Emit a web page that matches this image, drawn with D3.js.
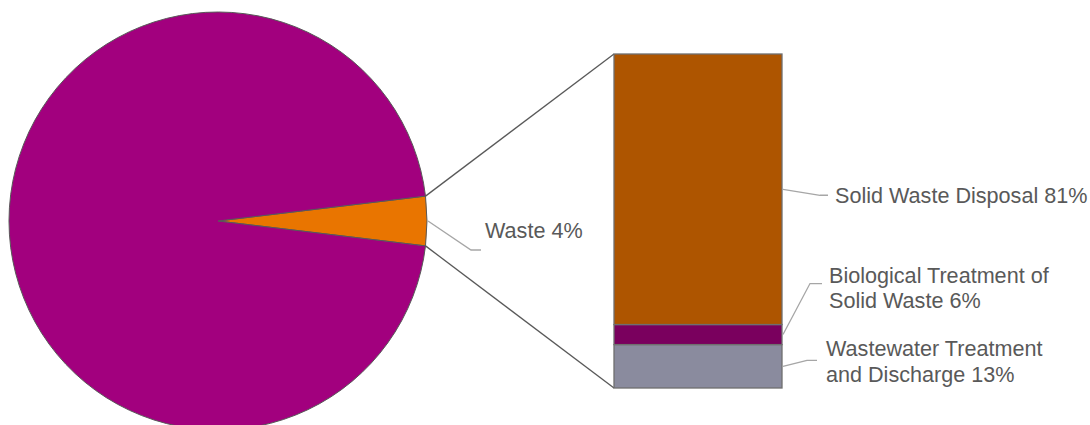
<!DOCTYPE html>
<html>
<head>
<meta charset="utf-8">
<script src="https://cdn.jsdelivr.net/npm/d3@7"></script>
<style>
  html, body { margin: 0; padding: 0; background: #ffffff; }
  svg { display: block; }
  text { font-family: "Liberation Sans", Arial, sans-serif; fill: #595959; }
</style>
</head>
<body>
<svg id="chart" width="1090" height="425"></svg>
<script>
// ---- Data ----
const pieCategories = ["Waste", "Other"];
const pieValues = [3.8, 96.2];
const pieLabels = ["Waste 4%", null];

const barCategories = ["Wastewater Treatment and Discharge", "Biological Treatment of Solid Waste", "Solid Waste Disposal"];
const barValues = [13, 6, 81];
const barLabelLines = [
  ["Wastewater Treatment", "and Discharge 13%"],
  ["Biological Treatment of", "Solid Waste 6%"],
  ["Solid Waste Disposal 81%"]
];

// ---- Styles ----
const pieColors = ["#E97500", "#A2007E"];
const barColors = ["#8A8B9E", "#7A005E", "#AE5500"];

const svg = d3.select("#chart");
const cx = 218, cy = 221, R = 209;

// ---- Pie ----
const total = d3.sum(pieValues);
const wasteAngle = pieValues[0] / total * 2 * Math.PI;
const pie = d3.pie().sort(null).value(d => d)
  .startAngle(Math.PI / 2 - wasteAngle / 2)
  .endAngle(Math.PI / 2 - wasteAngle / 2 + 2 * Math.PI);
const arcs = pie(pieValues);
const arc = d3.arc().innerRadius(0).outerRadius(R);
const gPie = svg.append("g").attr("transform", `translate(${cx},${cy})`);
gPie.selectAll("path").data(arcs).join("path")
  .attr("d", arc)
  .attr("fill", (d, i) => pieColors[i])
  .attr("stroke", "#595959")
  .attr("stroke-width", 1);

// ---- Bar ----
const barX0 = 614, barX1 = 782;
const y = d3.scaleLinear().domain([0, 100]).range([388, 54]);
const stack = [];
let acc = 0;
barValues.forEach((v, i) => { stack.push({ i, y0: acc, y1: acc + v }); acc += v; });

// connector lines from slice edge to bar corners
const pt = a => [cx + R * Math.sin(a), cy - R * Math.cos(a)];
const wa = arcs[0];
const pTop = pt(wa.startAngle), pBot = pt(wa.endAngle);
svg.append("line").attr("x1", pTop[0]).attr("y1", pTop[1]).attr("x2", barX0).attr("y2", y(100))
  .attr("stroke", "#595959").attr("stroke-width", 1.3);
svg.append("line").attr("x1", pBot[0]).attr("y1", pBot[1]).attr("x2", barX0).attr("y2", y(0))
  .attr("stroke", "#595959").attr("stroke-width", 1.3);

svg.append("g").selectAll("rect").data(stack).join("rect")
  .attr("x", barX0)
  .attr("width", barX1 - barX0)
  .attr("y", d => y(d.y1))
  .attr("height", d => y(d.y0) - y(d.y1))
  .attr("fill", d => barColors[d.i])
  .attr("stroke", "#6f6f6f")
  .attr("stroke-width", 1.3);

// ---- Labels ----
const fs = 21.6;
const leader = "#a6a6a6";

// Waste label
const wmid = (wa.startAngle + wa.endAngle) / 2;
const wp = pt(wmid);
svg.append("path")
  .attr("d", d3.line()([[wp[0] + 1, wp[1]], [wp[0] + 44, wp[1] + 29], [wp[0] + 54, wp[1] + 29]]))
  .attr("fill", "none").attr("stroke", leader).attr("stroke-width", 1.3);
svg.append("text").attr("x", wp[0] + 58).attr("y", wp[1] + 17)
  .attr("font-size", fs).text(pieLabels[0]);

// Bar labels layout: leader elbow/end offsets and text offsets
const barLabelLayout = [
  { ex: 25, ey: -6, hx: 35, tx: 44, by: -4 },
  { ex: 28, ey: -51, hx: 40, tx: 47, by: -1 },
  { ex: 38, ey: 6, hx: 46, tx: 53, by: 8 }
];
stack.forEach(d => {
  const L = barLabelLayout[d.i];
  const my = (y(d.y0) + y(d.y1)) / 2;
  const sx = barX1 + 1;
  const ey = my + L.ey;
  svg.append("path")
    .attr("d", d3.line()([[sx, my], [barX1 + L.ex, ey], [barX1 + L.hx, ey]]))
    .attr("fill", "none").attr("stroke", leader).attr("stroke-width", 1.3);
  const t = svg.append("text").attr("x", barX1 + L.tx).attr("y", ey + L.by).attr("font-size", fs);
  barLabelLines[d.i].forEach((line, k) => {
    t.append("tspan").attr("x", barX1 + L.tx).attr("dy", k === 0 ? 0 : 25.3).text(line);
  });
});
</script>
</body>
</html>
